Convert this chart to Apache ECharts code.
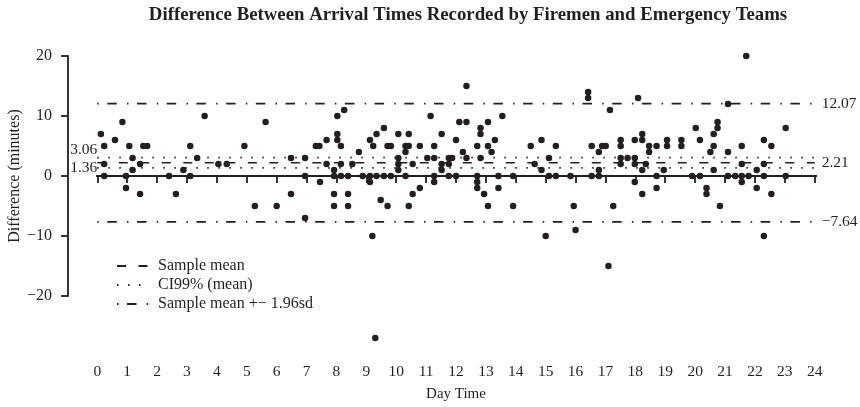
<!DOCTYPE html>
<html>
<head>
<meta charset="utf-8">
<script src="https://cdn.jsdelivr.net/npm/echarts@6/dist/echarts.min.js"></script>
<style>
html,body{margin:0;padding:0;background:#fff;}
#c{width:860px;height:407px;}
</style>
</head>
<body>
<div id="c"></div>
<script>
// ---- data ----
var titleText = 'Difference Between Arrival Times Recorded by Firemen and Emergency Teams';
var xTicks = [0,1,2,3,4,5,6,7,8,9,10,11,12,13,14,15,16,17,18,19,20,21,22,23,24];
var yTicks = [-20,-10,0,10,20];
var times = [
0.12,0.23,0.23,0.23,0.59,0.84,0.96,0.96,1.07,1.18,1.18,1.43,1.43,1.54,1.67,2.40,2.63,2.88,3.11,3.11,3.34,3.59,4.05,
4.33,4.92,5.27,5.63,6.00,6.48,6.48,6.95,6.95,6.95,7.31,7.43,7.45,7.67,7.67,7.92,7.92,7.92,7.92,8.03,8.03,8.03,8.15,8.15,8.15,8.26,
8.39,8.39,8.39,8.53,8.75,8.88,9.12,9.12,9.12,9.20,9.23,9.30,9.34,9.34,9.48,9.59,9.59,9.71,9.71,9.82,9.82,
10.07,10.07,10.07,10.07,10.31,10.31,10.31,10.42,10.42,10.42,10.55,10.55,10.79,10.79,11.04,11.15,11.27,11.27,11.27,11.27,
11.52,11.52,11.52,11.76,11.76,11.87,11.76,12.00,12.00,12.11,12.23,12.35,12.35,12.35,
12.71,12.71,12.71,12.71,12.82,12.82,12.82,12.94,13.07,13.07,13.07,13.19,13.30,13.42,13.42,13.55,13.91,13.91,
14.50,14.63,14.86,14.86,15.00,15.11,15.11,15.34,15.34,15.83,15.94,16.00,16.42,16.42,16.54,16.54,
16.78,16.78,16.78,16.89,17.01,17.10,17.15,17.26,17.51,17.51,17.51,17.51,17.74,17.98,17.98,17.98,17.98,18.09,
18.23,18.23,18.23,18.23,18.35,18.46,18.46,18.71,18.71,18.71,18.95,19.06,19.06,19.54,19.54,19.90,20.02,20.16,20.16,
20.38,20.38,20.51,20.62,20.62,20.62,20.75,20.75,20.83,
21.10,21.10,21.10,21.34,21.56,21.56,21.56,21.56,21.71,21.79,22.06,22.06,22.30,22.30,22.30,22.30,22.55,22.55,23.03,23.03
];
var diffs = [
7,5,2,0,6,9,0,-2,5,3,1,2,-3,5,5,0,-3,1,5,0,3,10,2,
2,5,-5,9,-5,3,-3,3,0,-7,5,5,-1,6,2,1,0,-3,-5,10,7,6,5,2,0,11,
0,-3,-5,2,4,0,6,0,-1,-10,5,-27,7,0,-4,8,0,5,-5,5,0,
7,3,2,1,5,4,0,7,5,-5,2,-3,5,-2,3,10,5,3,0,-1,
7,2,1,3,2,3,0,6,0,9,4,9,3,15,
5,0,-1,-2,8,7,3,-3,9,5,-5,4,6,0,-2,10,0,-5,
5,2,6,1,-10,3,0,5,0,0,-5,-9,14,13,5,0,
4,1,0,5,5,-15,11,-5,6,5,3,2,3,6,3,2,-1,13,
7,6,1,-3,2,5,4,5,0,-2,1,6,5,6,5,0,8,6,0,
-2,-3,4,7,5,1,9,8,-5,
12,4,0,0,5,2,0,-1,20,0,1,-2,6,2,0,-10,5,-3,8,0
];
var meanVal = 2.21;
var ciLow = 1.36, ciHigh = 3.06;
var loaLow = -7.64, loaHigh = 12.07;
var legendNames = ['Sample mean', 'CI99% (mean)', 'Sample mean +\u2212 1.96sd'];

// ---- chart ----
var INK = '#231f20';
var FONT = '"Liberation Serif", "DejaVu Serif", serif';
function fmtMinus(v){ return String(v).replace('-', '\u2212'); }
var points = times.map(function(t,i){ return [t, diffs[i]]; });
function hline(name, v, dash, lw, x0, x1, extra){
  var s = {
    type:'line', name:name, xAxisIndex:0, yAxisIndex:0,
    data:[[x0, v],[x1, v]], symbol:'none', silent:true, clip:false,
    lineStyle:{color:INK, width:lw, type:dash}, itemStyle:{color:INK}, z:3
  };
  if (extra) for (var k in extra) s[k] = extra[k];
  return s;
}
function endLab(v){
  return {show:true, formatter:fmtMinus(v), color:INK, fontFamily:FONT, fontSize:15.5, distance:7};
}
var dashMean = [9, 12.5];
var dotCI = [1.5, 9.5];
var dotDash = [1.5, 8.5, 9.5, 10.2];

var chart = echarts.init(document.getElementById('c'), null, {renderer:'canvas'});
chart.setOption({
  animation:false,
  backgroundColor:'#fff',
  title:{text:titleText, left:463, top:1, textAlign:'center',
    textStyle:{fontFamily:FONT, fontSize:18.8, fontWeight:'bold', color:INK}},
  legend:{
    data:legendNames, orient:'vertical', left:111, top:253,
    itemWidth:32, itemHeight:14, itemGap:3,
    itemStyle:{color:'rgba(0,0,0,0)', borderWidth:0, opacity:0},
    textStyle:{fontFamily:FONT, fontSize:16, lineHeight:14, color:INK, padding:[0,0,0,4]},
    selectedMode:false
  },
  grid:[
    {left:97.3, right:45.3, top:56, bottom:57},
    {left:68, top:56, width:10, height:240}
  ],
  xAxis:[
    {gridIndex:0, type:'value', min:xTicks[0], max:xTicks[xTicks.length-1], interval:1,
     axisLine:{lineStyle:{color:INK, width:1.8}},
     axisTick:{length:7, lineStyle:{color:INK, width:1.8}},
     axisLabel:{color:INK, fontFamily:FONT, fontSize:15.5, margin:14},
     splitLine:{show:false},
     name:'Day Time', nameLocation:'middle', nameGap:37,
     nameTextStyle:{color:INK, fontFamily:FONT, fontSize:15}},
    {gridIndex:1, type:'value', show:false, min:0, max:1}
  ],
  yAxis:[
    {gridIndex:0, type:'value', min:-29, max:20, show:false},
    {gridIndex:1, type:'value', min:yTicks[0], max:yTicks[yTicks.length-1], interval:10,
     axisLine:{show:true, lineStyle:{color:INK, width:1.8}},
     axisTick:{show:true, length:7, lineStyle:{color:INK, width:1.8}},
     axisLabel:{color:INK, fontFamily:FONT, fontSize:16, margin:16, formatter:fmtMinus},
     splitLine:{show:false},
     name:'Difference (minutes)', nameLocation:'middle', nameGap:45,
     nameTextStyle:{color:INK, fontFamily:FONT, fontSize:16}}
  ],
  series:[
    hline('zero', 0, 'solid', 1.8, -0.5, 24.5),
    hline(legendNames[0], meanVal, dashMean, 1.6, 0, 24, {endLabel:endLab(meanVal)}),
    hline(legendNames[1], ciHigh, dotCI, 1.6, 0, 24),
    hline(legendNames[1], ciLow, dotCI, 1.6, 0, 24),
    hline(legendNames[2], loaHigh, dotDash, 1.8, 0, 24, {endLabel:endLab(loaHigh)}),
    hline(legendNames[2], loaLow, dotDash, 1.8, 0, 24, {endLabel:endLab(loaLow)}),
    {type:'scatter', name:'leftLabels', xAxisIndex:0, yAxisIndex:0, silent:true,
     symbolSize:0, z:4, itemStyle:{opacity:1, color:INK},
     data:[
       {value:[0, ciHigh], label:{show:true, position:'left', distance:0, offset:[0,-8], formatter:String(ciHigh)}},
       {value:[0, ciLow], label:{show:true, position:'left', distance:0, formatter:String(ciLow)}}
     ],
     label:{color:INK, fontFamily:FONT, fontSize:15.5}},
    {type:'scatter', name:'points', xAxisIndex:0, yAxisIndex:0, data:points,
     symbol:'circle', symbolSize:6.5, itemStyle:{color:INK, opacity:1}, z:5}
  ]
});
</script>
</body>
</html>
